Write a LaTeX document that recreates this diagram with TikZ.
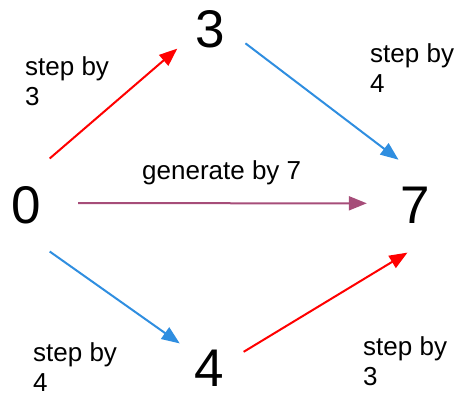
\documentclass[tikz,border=0pt]{standalone}
\usepackage{fontspec}
\setmainfont{Liberation Sans}
\usetikzlibrary{arrows.meta}
\definecolor{stepred}{HTML}{FF0000}
\definecolor{stepblue}{HTML}{2F8EE0}
\definecolor{genplum}{HTML}{A64D79}
\tikzset{fig/.style={line join=round,>={Triangle[length=18pt,width=14pt]}},
 num/.style={circle,inner sep=0pt,font=\fontsize{53}{60}\selectfont},
 lab/.style={anchor=north west,inner sep=0pt,align=left,font=\fontsize{26}{30}\selectfont},
 hop/.style={->,line width=2pt}}

\begin{document}
\begin{tikzpicture}[fig,x=1pt,y=1pt]
 \useasboundingbox(0,0)rectangle(458,396);
 \node[num,minimum size=104pt](n0)at(26,191){0};
 \node[num,minimum size=76pt](n3)at(210,367){3};
 \node[num,minimum size=76pt](n4)at(209,28){4};
 \node[num,minimum size=96pt](n7)at(415,191){7};
 \draw[hop,stepred](n0.63)--(n3.211);\draw[hop,stepblue](n3.-22)--(n7.110);
 \draw[hop,stepblue](n0.-63)--(n4.140);\draw[hop,stepred](n4.25)--(n7.261);
 \draw[hop,genplum](n0.2)--(n7.178);
 \foreach \nm/\px/\py/\k in {lab3a/25/340/3, lab4a/370/353/4, lab4b/33/54/4, lab3b/363/60/3}
  \node[lab](\nm)at(\px,\py){step by\\\k};
 \node[lab,anchor=base west](labgen)at(142,216){generate by 7};
\end{tikzpicture}
\end{document}
